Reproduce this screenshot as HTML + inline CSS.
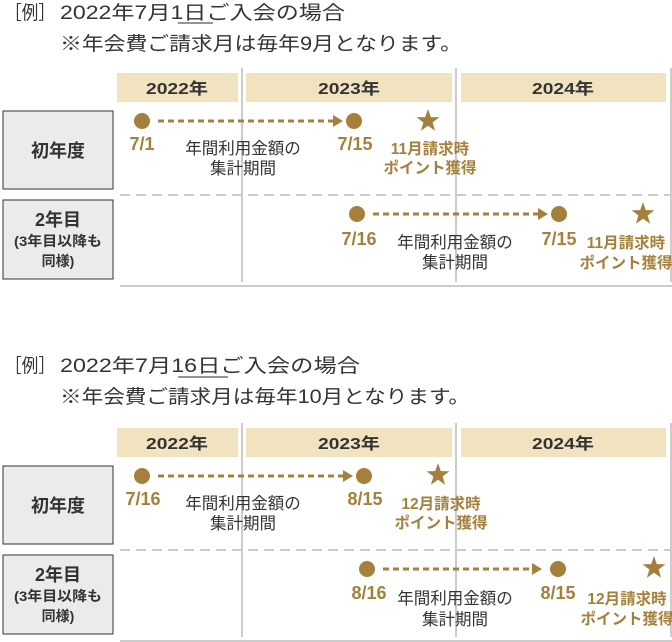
<!DOCTYPE html>
<html><head><meta charset="utf-8"><style>
html,body{margin:0;padding:0;background:#fff;}
svg{display:block;}
text{font-family:"Liberation Sans","Noto Sans CJK JP",sans-serif;}
.t{font-size:19px;fill:#333;}
.h{font-size:16px;font-weight:bold;fill:#333;text-anchor:middle;}
.bx{font-size:18px;font-weight:bold;fill:#333;text-anchor:middle;}
.bs{font-size:14px;font-weight:bold;fill:#333;text-anchor:middle;}
.d{font-size:18px;font-weight:bold;fill:#a5803c;text-anchor:middle;}
.g{font-size:15.5px;font-weight:bold;fill:#a5803c;text-anchor:middle;}
.k{font-size:16.5px;fill:#333;text-anchor:middle;}
</style></head><body>
<svg width="672" height="642" viewBox="0 0 672 642" xmlns="http://www.w3.org/2000/svg">
<defs>
<path id="star" d="M0,-12 L2.8,-3.9 L11.4,-3.7 L4.6,1.5 L7.1,9.7 L0,4.8 L-7.1,9.7 L-4.6,1.5 L-11.4,-3.7 L-2.8,-3.9 Z" fill="#a5803c"/>
</defs>

<!-- Section 1 -->
<g>
<text class="t" x="5" y="19" textLength="50" lengthAdjust="spacingAndGlyphs">［例］</text>
<text class="t" x="60" y="19" textLength="285" lengthAdjust="spacingAndGlyphs">2022年7月1日ご入会の場合</text>
<line x1="178" y1="23" x2="213" y2="23" stroke="#555" stroke-width="1.2"/>
<text class="t" x="60" y="50" textLength="402" lengthAdjust="spacingAndGlyphs">※年会費ご請求月は毎年9月となります。</text>

<rect x="117" y="73" width="121" height="29" fill="#f1e3bf"/>
<rect x="246" y="73" width="206" height="29" fill="#f1e3bf"/>
<rect x="461" y="73" width="205" height="29" fill="#f1e3bf"/>
<text class="h" x="177" y="94" textLength="62" lengthAdjust="spacingAndGlyphs">2022年</text>
<text class="h" x="349" y="94" textLength="62" lengthAdjust="spacingAndGlyphs">2023年</text>
<text class="h" x="563" y="94" textLength="62" lengthAdjust="spacingAndGlyphs">2024年</text>

<line x1="242" y1="68" x2="242" y2="282" stroke="#ccc" stroke-width="2"/>
<line x1="456" y1="68" x2="456" y2="282" stroke="#ccc" stroke-width="2"/>
<line x1="671" y1="68" x2="671" y2="282" stroke="#ccc" stroke-width="2"/>
<line x1="120" y1="195" x2="672" y2="195" stroke="#ccc" stroke-width="2" stroke-dasharray="10,6"/>
<line x1="120" y1="286" x2="672" y2="286" stroke="#ccc" stroke-width="2"/>

<rect x="3" y="111" width="110" height="78" fill="#ebebeb" stroke="#333" stroke-width="1"/>
<text class="bx" x="58" y="157">初年度</text>
<rect x="3" y="200" width="110" height="79" fill="#ebebeb" stroke="#333" stroke-width="1"/>
<text class="bx" x="58" y="226">2年目</text>
<text class="bs" x="58" y="246" textLength="88" lengthAdjust="spacingAndGlyphs">(3年目以降も</text>
<text class="bs" x="58" y="266">同様)</text>

<!-- row1 -->
<circle cx="142" cy="121" r="8" fill="#a5803c"/>
<line x1="158" y1="121" x2="334" y2="121" stroke="#a5803c" stroke-width="3" stroke-dasharray="6,4"/>
<path d="M333,115 L343,121 L333,127 Z" fill="#a5803c"/>
<circle cx="354" cy="121" r="8" fill="#a5803c"/>
<text class="d" x="142" y="150">7/1</text>
<text class="d" x="355" y="150">7/15</text>
<use href="#star" x="428" y="121"/>
<text class="g" x="430" y="154">11月請求時</text>
<text class="g" x="430" y="173">ポイント獲得</text>
<text class="k" x="243" y="154">年間利用金額の</text>
<text class="k" x="243" y="174">集計期間</text>

<!-- row2 -->
<circle cx="357" cy="214" r="8" fill="#a5803c"/>
<line x1="373" y1="214" x2="539" y2="214" stroke="#a5803c" stroke-width="3" stroke-dasharray="6,4"/>
<path d="M538,208 L548,214 L538,220 Z" fill="#a5803c"/>
<circle cx="559" cy="214" r="8" fill="#a5803c"/>
<text class="d" x="359" y="245">7/16</text>
<text class="d" x="559" y="245">7/15</text>
<use href="#star" x="643" y="214"/>
<text class="g" x="626" y="248">11月請求時</text>
<text class="g" x="626" y="268">ポイント獲得</text>
<text class="k" x="455" y="248">年間利用金額の</text>
<text class="k" x="455" y="268">集計期間</text>
</g>

<!-- Section 2 -->
<g>
<text class="t" x="5" y="372" textLength="50" lengthAdjust="spacingAndGlyphs">［例］</text>
<text class="t" x="60" y="372" textLength="300" lengthAdjust="spacingAndGlyphs">2022年7月16日ご入会の場合</text>
<line x1="178" y1="377" x2="228" y2="377" stroke="#555" stroke-width="1.2"/>
<text class="t" x="60" y="403" textLength="410" lengthAdjust="spacingAndGlyphs">※年会費ご請求月は毎年10月となります。</text>
</g>
<g transform="translate(0,355)">
<rect x="117" y="73" width="121" height="29" fill="#f1e3bf"/>
<rect x="246" y="73" width="206" height="29" fill="#f1e3bf"/>
<rect x="461" y="73" width="205" height="29" fill="#f1e3bf"/>
<text class="h" x="177" y="94" textLength="62" lengthAdjust="spacingAndGlyphs">2022年</text>
<text class="h" x="349" y="94" textLength="62" lengthAdjust="spacingAndGlyphs">2023年</text>
<text class="h" x="563" y="94" textLength="62" lengthAdjust="spacingAndGlyphs">2024年</text>

<line x1="242" y1="68" x2="242" y2="282" stroke="#ccc" stroke-width="2"/>
<line x1="456" y1="68" x2="456" y2="282" stroke="#ccc" stroke-width="2"/>
<line x1="671" y1="68" x2="671" y2="282" stroke="#ccc" stroke-width="2"/>
<line x1="120" y1="195" x2="672" y2="195" stroke="#ccc" stroke-width="2" stroke-dasharray="10,6"/>
<line x1="120" y1="286" x2="672" y2="286" stroke="#ccc" stroke-width="2"/>

<rect x="3" y="111" width="110" height="78" fill="#ebebeb" stroke="#333" stroke-width="1"/>
<text class="bx" x="58" y="157">初年度</text>
<rect x="3" y="200" width="110" height="79" fill="#ebebeb" stroke="#333" stroke-width="1"/>
<text class="bx" x="58" y="226">2年目</text>
<text class="bs" x="58" y="246" textLength="88" lengthAdjust="spacingAndGlyphs">(3年目以降も</text>
<text class="bs" x="58" y="266">同様)</text>

<circle cx="142" cy="121" r="8" fill="#a5803c"/>
<line x1="158" y1="121" x2="344" y2="121" stroke="#a5803c" stroke-width="3" stroke-dasharray="6,4"/>
<path d="M343,115 L353,121 L343,127 Z" fill="#a5803c"/>
<circle cx="364" cy="121" r="8" fill="#a5803c"/>
<text class="d" x="143" y="150">7/16</text>
<text class="d" x="365" y="150">8/15</text>
<use href="#star" x="438" y="120"/>
<text class="g" x="441" y="154">12月請求時</text>
<text class="g" x="441" y="173">ポイント獲得</text>
<text class="k" x="243" y="154">年間利用金額の</text>
<text class="k" x="243" y="174">集計期間</text>

<circle cx="367" cy="214" r="8" fill="#a5803c"/>
<line x1="383" y1="214" x2="533" y2="214" stroke="#a5803c" stroke-width="3" stroke-dasharray="6,4"/>
<path d="M532,208 L542,214 L532,220 Z" fill="#a5803c"/>
<circle cx="558" cy="214" r="8" fill="#a5803c"/>
<text class="d" x="369" y="244">8/16</text>
<text class="d" x="558" y="244">8/15</text>
<use href="#star" x="654" y="213"/>
<text class="g" x="627" y="249">12月請求時</text>
<text class="g" x="627" y="269">ポイント獲得</text>
<text class="k" x="455" y="249">年間利用金額の</text>
<text class="k" x="455" y="270">集計期間</text>
</g>
</svg>
</body></html>
